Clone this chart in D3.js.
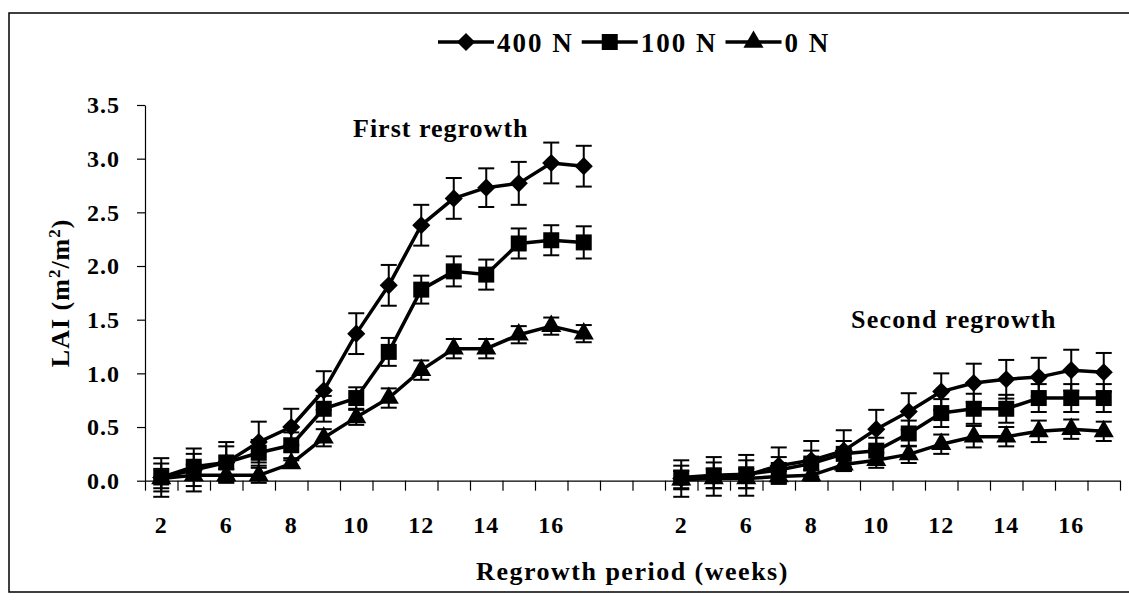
<!DOCTYPE html>
<html>
<head>
<meta charset="utf-8">
<script src="https://cdn.jsdelivr.net/npm/d3@7/dist/d3.min.js"></script>
<style>
  html, body { margin: 0; padding: 0; background: #fff; }
  svg { display: block; }
  text { font-family: "Liberation Serif", "Times New Roman", serif; font-weight: bold; fill: #000; }
</style>
</head>
<body>
<svg id="chart" width="1129" height="607"></svg>
<script>
// ---------------- data ----------------
const seriesNames = ["400 N", "100 N", "0 N"];
const markerTypes = ["diamond", "square", "triangle"];
const panelTickLabels = ["2", "", "6", "", "8", "", "10", "", "12", "", "14", "", "16", ""];
const gapSlots = 2;
const panelTitles = ["First regrowth", "Second regrowth"];
const yTickValues = [0, 0.5, 1.0, 1.5, 2.0, 2.5, 3.0, 3.5];

const first400    = [0.03, 0.10, 0.17, 0.36, 0.50, 0.84, 1.37, 1.82, 2.38, 2.63, 2.73, 2.77, 2.96, 2.93];
const first400Err = [0.18, 0.20, 0.19, 0.19, 0.17, 0.18, 0.19, 0.19, 0.19, 0.19, 0.18, 0.20, 0.19, 0.19];
const first100    = [0.03, 0.13, 0.17, 0.26, 0.33, 0.67, 0.77, 1.20, 1.78, 1.95, 1.92, 2.21, 2.24, 2.22];
const first100Err = [0.13, 0.12, 0.15, 0.12, 0.12, 0.12, 0.10, 0.13, 0.13, 0.14, 0.14, 0.14, 0.14, 0.15];
const first0      = [0.02, 0.05, 0.05, 0.05, 0.16, 0.40, 0.59, 0.77, 1.03, 1.23, 1.23, 1.36, 1.44, 1.37];
const first0Err   = [0.09, 0.10, 0.06, 0.07, 0.03, 0.08, 0.07, 0.09, 0.09, 0.09, 0.09, 0.08, 0.08, 0.08];

const second400    = [0.02, 0.04, 0.05, 0.14, 0.19, 0.28, 0.48, 0.645, 0.83, 0.91, 0.945, 0.965, 1.03, 1.01];
const second400Err = [0.17, 0.18, 0.19, 0.17, 0.18, 0.19, 0.18, 0.17, 0.17, 0.18, 0.18, 0.18, 0.19, 0.18];
const second100    = [0.03, 0.05, 0.06, 0.10, 0.16, 0.25, 0.28, 0.44, 0.63, 0.67, 0.67, 0.77, 0.77, 0.77];
const second100Err = [0.11, 0.12, 0.13, 0.12, 0.12, 0.12, 0.12, 0.12, 0.13, 0.14, 0.13, 0.13, 0.13, 0.13];
const second0      = [0.01, 0.02, 0.02, 0.04, 0.05, 0.15, 0.19, 0.245, 0.34, 0.41, 0.41, 0.46, 0.48, 0.46];
const second0Err   = [0.08, 0.09, 0.09, 0.05, 0.05, 0.06, 0.07, 0.08, 0.09, 0.10, 0.09, 0.10, 0.09, 0.09];

// ---------------- layout ----------------
const svg = d3.select("#chart");
const W = 1129, H = 607;
const plot = { left: 145, right: 1120, top: 105, bottom: 480.7 };

svg.append("rect").attr("width", W).attr("height", H).attr("fill", "#fff");
// chart frame
svg.append("rect").attr("x", 9).attr("y", 13).attr("width", 1140).attr("height", 579)
  .attr("fill", "none").attr("stroke", "#000").attr("stroke-width", 1.5);

const nPanel = panelTickLabels.length;
const nSlots = nPanel * 2 + gapSlots;
const slotLabels = [...panelTickLabels, ...Array(gapSlots).fill(""), ...panelTickLabels];

const x = d3.scaleBand().domain(d3.range(nSlots)).range([plot.left, plot.right]).padding(0);
const xEdge = d3.scaleLinear().domain([0, nSlots]).range([plot.left, plot.right]);
const y = d3.scaleLinear().domain([0, 3.5]).range([plot.bottom, plot.top]);

const panels = [
  { offset: 0, series: [[first400, first400Err], [first100, first100Err], [first0, first0Err]] },
  { offset: nPanel + gapSlots, series: [[second400, second400Err], [second100, second100Err], [second0, second0Err]] }
];

// ---------------- axes ----------------
const gx = svg.append("g").attr("transform", `translate(0,${plot.bottom})`)
  .call(d3.axisBottom(xEdge).tickValues(d3.range(nSlots + 1)).tickSize(10).tickSizeOuter(0).tickFormat(""));
gx.selectAll("path,line").attr("stroke", "#000").attr("stroke-width", 1.2);

const gxl = svg.append("g").attr("transform", `translate(0,${plot.bottom})`)
  .call(d3.axisBottom(x).tickSize(0).tickPadding(35).tickFormat(d => slotLabels[d]));
gxl.select(".domain").remove();
gxl.selectAll("text").style("font-size", "24px").style("letter-spacing", "1px")
  .attr("font-family", null).attr("fill", "#000");

const gy = svg.append("g").attr("transform", `translate(${plot.left},0)`)
  .call(d3.axisLeft(y).tickValues(yTickValues).tickFormat(d3.format(".1f")).tickSize(8).tickSizeOuter(0).tickPadding(17));
gy.selectAll("path,line").attr("stroke", "#000").attr("stroke-width", 1.2);
gy.selectAll("text").style("font-size", "24px").style("letter-spacing", "1px")
  .attr("font-family", null).attr("fill", "#000");

// axis titles
svg.append("text").attr("x", (plot.left + plot.right) / 2).attr("y", 580)
  .attr("text-anchor", "middle").style("font-size", "26px").style("letter-spacing", "1.5px")
  .text("Regrowth period (weeks)");

const yt = svg.append("text")
  .attr("transform", `translate(69,${(plot.top + plot.bottom) / 2}) rotate(-90)`)
  .attr("text-anchor", "middle").style("font-size", "26px").style("letter-spacing", "1px");
yt.append("tspan").text("LAI (m");
yt.append("tspan").attr("baseline-shift", "super").style("font-size", "17px").text("2");
yt.append("tspan").text("/m");
yt.append("tspan").attr("baseline-shift", "super").style("font-size", "17px").text("2");
yt.append("tspan").text(")");

// panel titles
svg.append("text").attr("x", 353).attr("y", 137).style("font-size", "26px").style("letter-spacing", "1px").text(panelTitles[0]);
svg.append("text").attr("x", 851).attr("y", 328).style("font-size", "26px").style("letter-spacing", "1.2px").text(panelTitles[1]);

// ---------------- marks ----------------
function markerPath(type) {
  if (type === "diamond") return d3.symbol(d3.symbolSquare, 165)();
  if (type === "square") return d3.symbol(d3.symbolSquare, 256)();
  return d3.symbol(d3.symbolTriangle, 175)();
}
function markerTransform(type, cx, cy) {
  return type === "diamond" ? `translate(${cx},${cy}) rotate(45)` : `translate(${cx},${cy})`;
}

const cx = i => x(i) + x.bandwidth() / 2;
const line = d3.line().x(d => cx(d.slot)).y(d => y(d.v));
const capW = 8;

panels.forEach(panel => {
  panel.series.forEach(([vals, errs], s) => {
    const pts = vals.map((v, i) => ({ slot: panel.offset + i, v, e: errs[i] }));
    const g = svg.append("g");
    // error bars
    const eb = g.selectAll("g.eb").data(pts).join("g");
    eb.append("line").attr("x1", d => cx(d.slot)).attr("x2", d => cx(d.slot))
      .attr("y1", d => y(d.v - d.e)).attr("y2", d => y(d.v + d.e));
    eb.append("line").attr("x1", d => cx(d.slot) - capW).attr("x2", d => cx(d.slot) + capW)
      .attr("y1", d => y(d.v + d.e)).attr("y2", d => y(d.v + d.e));
    eb.append("line").attr("x1", d => cx(d.slot) - capW).attr("x2", d => cx(d.slot) + capW)
      .attr("y1", d => y(d.v - d.e)).attr("y2", d => y(d.v - d.e));
    eb.selectAll("line").attr("stroke", "#000").attr("stroke-width", 2);
    // line
    g.append("path").datum(pts).attr("d", line).attr("fill", "none")
      .attr("stroke", "#000").attr("stroke-width", 3.5).attr("stroke-linejoin", "round");
    // markers
    g.selectAll("path.m").data(pts).join("path").attr("class", "m")
      .attr("d", markerPath(markerTypes[s]))
      .attr("transform", d => markerTransform(markerTypes[s], cx(d.slot), y(d.v)))
      .attr("fill", "#000");
  });
});

// ---------------- legend ----------------
const legend = svg.append("g");
let lx = 438;
const ly = 42;
seriesNames.forEach((name, s) => {
  legend.append("line").attr("x1", lx).attr("x2", lx + 56).attr("y1", ly).attr("y2", ly)
    .attr("stroke", "#000").attr("stroke-width", 3.5);
  legend.append("path").attr("d", markerPath(markerTypes[s]))
    .attr("transform", markerTransform(markerTypes[s], lx + 28, ly)).attr("fill", "#000");
  const t = legend.append("text").attr("x", lx + 59).attr("y", ly + 10)
    .style("font-size", "27px").style("letter-spacing", "2px").text(name);
  lx = lx + 59 + t.node().getComputedTextLength() + 8;
});
</script>
</body>
</html>
